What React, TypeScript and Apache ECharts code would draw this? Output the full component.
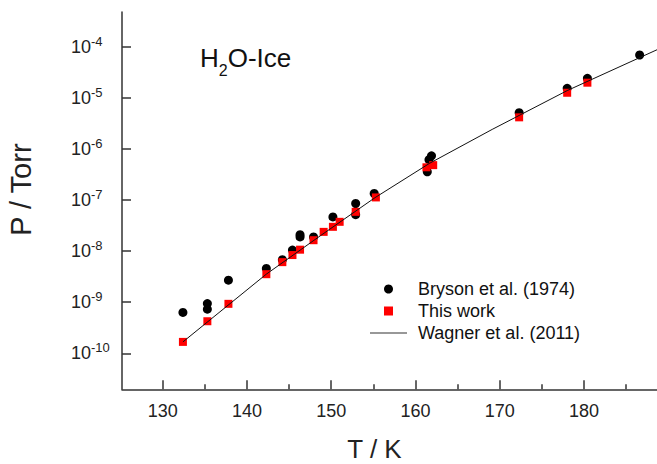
import React, { useEffect, useRef } from "react";
import * as echarts from "echarts";

// ---- data (T in K, P in Torr) ----
const brysonT = [132.4, 135.3, 135.3, 137.8, 142.3, 144.2, 145.4, 146.3, 146.3, 147.9, 150.2, 152.9, 152.9, 155.1, 161.4, 161.6, 161.9, 172.3, 178.0, 180.4, 186.6];
const brysonP = [6.3e-10, 9.4e-10, 7.3e-10, 2.7e-9, 4.6e-9, 6.8e-9, 1.05e-8, 2.1e-8, 1.9e-8, 1.9e-8, 4.7e-8, 8.6e-8, 5.2e-8, 1.35e-7, 3.6e-7, 6.2e-7, 7.4e-7, 5.15e-6, 1.55e-5, 2.43e-5, 6.97e-5];

const thisWorkT = [132.4, 135.3, 137.8, 142.3, 144.2, 145.4, 146.3, 147.9, 149.1, 150.2, 151.0, 152.9, 155.3, 161.3, 162.1, 172.3, 178.0, 180.4];
const thisWorkP = [1.67e-10, 4.24e-10, 9.3e-10, 3.54e-9, 6.1e-9, 8.4e-9, 1.07e-8, 1.64e-8, 2.39e-8, 3.0e-8, 3.76e-8, 5.9e-8, 1.13e-7, 4.4e-7, 4.85e-7, 4.19e-6, 1.27e-5, 2.0e-5];

const wagnerT = [132.4, 142.3, 148.7, 155.2, 161.7, 169.1, 178.0, 188.7];
const wagnerP = [1.67e-10, 3.55e-9, 2.0e-8, 1.12e-7, 5.3e-7, 2.43e-6, 1.4e-5, 8.9e-5];

const seriesNames = ["Bryson et al. (1974)", "This work", "Wagner et al. (2011)"];

const xTicks = [130, 140, 150, 160, 170, 180];
const xMinorTicks = [135, 145, 155, 165, 175, 185];
const yTickExponents = [-10, -9, -8, -7, -6, -5, -4];

const X_MIN = 125.17;
const X_MAX = 188.66;
const Y_MIN = -10.706; // log10(P)
const Y_MAX = -3.314;

const FONT = "'Liberation Sans', Arial, sans-serif";
const AXIS_COLOR = "#333";

export default function App() {
  const ref = useRef<HTMLDivElement>(null);

  useEffect(() => {
    const chart = echarts.init(ref.current!, null, { renderer: "svg" });
    const toPts = (t: number[], p: number[]) => t.map((x, i) => [x, Math.log10(p[i])]);

    chart.setOption({
      animation: false,
      backgroundColor: "#fff",
      textStyle: { fontFamily: FONT },
      grid: { left: 122, right: 0, top: 12, bottom: 74.7, containLabel: false, outerBoundsMode: "none" },
      legend: {
        orient: "vertical",
        left: 370,
        top: 280,
        padding: 0,
        itemWidth: 37,
        itemHeight: 9,
        itemGap: 4,
        data: [
          { name: seriesNames[0], icon: "circle" },
          { name: seriesNames[1], icon: "path://M0,0L1,0L1,1L0,1Z" },
          { name: seriesNames[2], icon: "path://M0,0L37,0L37,1.2L0,1.2Z" },
        ],
        textStyle: { fontSize: 18, color: "#111", fontFamily: FONT, padding: [0, 0, 0, 6] },
      },
      graphic: [
        {
          type: "text",
          left: 200,
          top: 45,
          style: {
            text: "{a|H}{b|2}{a|O-Ice}",
            rich: {
              a: { fontSize: 26, fontFamily: FONT, fill: "#111", lineHeight: 27, verticalAlign: "top" },
              b: { fontSize: 16, fontFamily: FONT, fill: "#111", lineHeight: 50 },
            },
          },
        },
      ],
      xAxis: [
        {
          type: "value",
          min: X_MIN,
          max: X_MAX,
          position: "bottom",
          axisLine: { show: true, onZero: false, lineStyle: { color: AXIS_COLOR, width: 1.5 } },
          axisTick: { show: true, inside: true, length: 9, customValues: xTicks, lineStyle: { color: AXIS_COLOR, width: 1.5 } },
          axisLabel: { customValues: xTicks, margin: 13, fontSize: 18, color: "#222", fontFamily: FONT },
          splitLine: { show: false },
          name: "T / K",
          nameLocation: "middle",
          nameGap: 48.5,
          nameTextStyle: { fontSize: 26, lineHeight: 22, color: "#222", fontFamily: FONT, padding: [0, 30, 0, 0] },
        },
        {
          type: "value",
          min: X_MIN,
          max: X_MAX,
          position: "bottom",
          axisLine: { show: false, onZero: false },
          axisTick: { show: true, inside: true, length: 5, customValues: xMinorTicks, lineStyle: { color: AXIS_COLOR, width: 1.5 } },
          axisLabel: { show: false },
          splitLine: { show: false },
        },
      ],
      yAxis: {
        type: "value",
        min: Y_MIN,
        max: Y_MAX,
        axisLine: { show: true, onZero: false, lineStyle: { color: AXIS_COLOR, width: 1.5 } },
        axisTick: { show: true, inside: true, length: 9, customValues: yTickExponents, lineStyle: { color: AXIS_COLOR, width: 1.5 } },
        axisLabel: {
          customValues: yTickExponents,
          align: "left",
          margin: 51,
          formatter: (v: number) => `{b|10}{s|${Math.round(v)}}`,
          rich: {
            b: { fontSize: 18, fontFamily: FONT, color: "#222", lineHeight: 24 },
            s: { fontSize: 13, fontFamily: FONT, color: "#222", lineHeight: 14, verticalAlign: "top" },
          },
        },
        splitLine: { show: false },
        name: "P / Torr",
        nameLocation: "middle",
        nameGap: 87,
        nameTextStyle: { fontSize: 29, color: "#222", fontFamily: FONT, padding: [0, 0, 0, 22] },
      },
      series: [
        {
          name: seriesNames[0],
          type: "scatter",
          symbol: "circle",
          symbolSize: 9,
          itemStyle: { color: "#000", opacity: 1 },
          data: toPts(brysonT, brysonP),
        },
        {
          name: seriesNames[1],
          type: "scatter",
          symbol: "rect",
          symbolSize: 8,
          itemStyle: { color: "#ff0000", opacity: 1 },
          data: toPts(thisWorkT, thisWorkP),
        },
        {
          name: seriesNames[2],
          type: "line",
          symbol: "none",
          showSymbol: false,
          lineStyle: { color: "#111", width: 1 },
          itemStyle: { color: "#333" },
          data: toPts(wagnerT, wagnerP),
        },
      ],
    });

    return () => chart.dispose();
  }, []);

  return (
    <div
      ref={ref}
      style={{ position: "fixed", left: 0, top: 0, width: 657, height: 464, background: "#fff" }}
    />
  );
}
